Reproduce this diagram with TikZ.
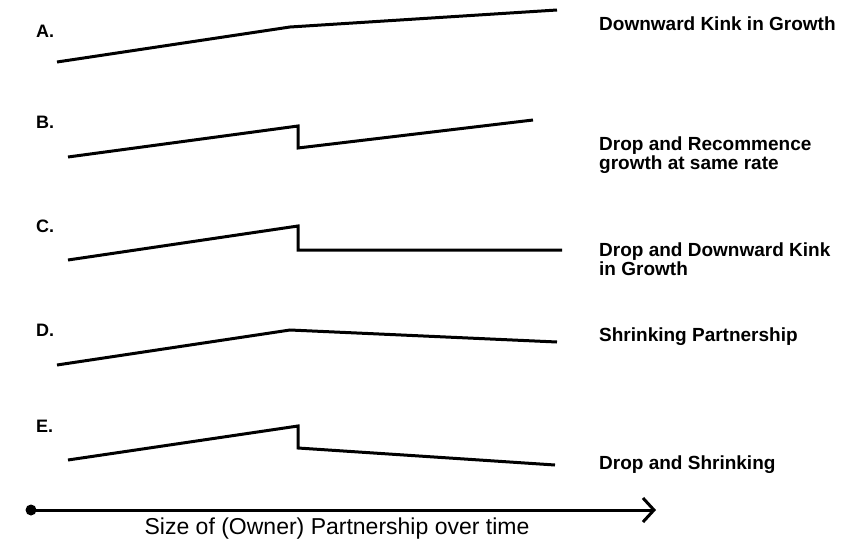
\documentclass[tikz,border=0pt]{standalone}
\usepackage{fontspec}
\setmainfont{Liberation Sans}
\usetikzlibrary{arrows.meta, positioning}

\begin{document}
\begin{tikzpicture}[x=1pt, y=-1pt]
  \tikzstyle{curve} = [line width=3pt, line join=miter]
  \tikzstyle{letter} = [anchor=west, inner sep=0pt, font=\bfseries\fontsize{18}{18}\selectfont]
  \tikzstyle{note} = [anchor=west, inner sep=0pt, align=left, font=\bfseries\fontsize{19}{19}\selectfont]
  \tikzstyle{axis} = [line width=3pt, -{Straight Barb[length=11pt, width=24pt, line width=3pt]}]

  \useasboundingbox (0,0) rectangle (844,544);

  % row labels
  \node[letter] (la) at (36,31) {A.};
  \node[letter] (lb) at (36,122) {B.};
  \node[letter] (lc) at (36,226) {C.};
  \node[letter] (ld) at (36,330) {D.};
  \node[letter] (le) at (36,426) {E.};

  % descriptions
  \node[note] (ta) at (599,24) {Downward Kink in Growth};
  \node[note] (tb) at (599,155) {Drop and Recommence\\growth at same rate};
  \node[note] (tc) at (599,259) {Drop and Downward Kink\\in Growth};
  \node[note] (td) at (599,337) {Shrinking Partnership};
  \node[note] (te) at (599,465) {Drop and Shrinking};

  % A
  \coordinate (a0) at (57,62);
  \coordinate (a1) at (290,27);
  \coordinate (a2) at (557,10);
  \draw[curve] (a0) -- (a1) -- (a2);

  % B
  \coordinate (b0) at (68,157);
  \coordinate (b1) at (298,126);
  \coordinate (b2) at (298,148);
  \coordinate (b3) at (533,120);
  \draw[curve] (b0) -- (b1) -- (b2) -- (b3);

  % C
  \coordinate (c0) at (68,260);
  \coordinate (c1) at (298,226);
  \coordinate (c2) at (298,250);
  \coordinate (c3) at (562,250);
  \draw[curve] (c0) -- (c1) -- (c2) -- (c3);

  % D
  \coordinate (d0) at (57,365);
  \coordinate (d1) at (290,330);
  \coordinate (d2) at (557,342);
  \draw[curve] (d0) -- (d1) -- (d2);

  % E
  \coordinate (e0) at (68,460);
  \coordinate (e1) at (298,426);
  \coordinate (e2) at (298,448);
  \coordinate (e3) at (555,465);
  \draw[curve] (e0) -- (e1) -- (e2) -- (e3);

  % time axis
  \node[circle, fill, inner sep=0pt, minimum size=11pt] (start) at (31,510) {};
  \coordinate (end) at (656,510);
  \draw[axis] (start.center) -- (end);
  \node[font=\fontsize{23}{23}\selectfont] (xlabel) at (337,529) {Size of (Owner) Partnership over time};
\end{tikzpicture}
\end{document}
